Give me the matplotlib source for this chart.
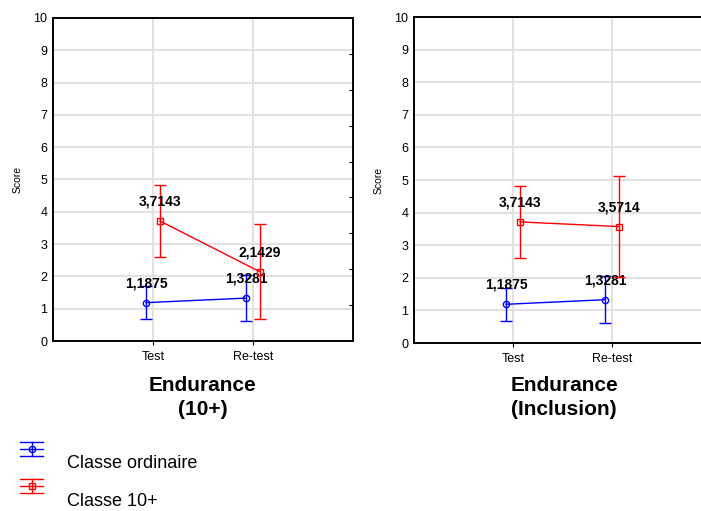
import matplotlib.pyplot as plt
from matplotlib.lines import Line2D

plt.rcParams['font.family'] = ['Liberation Sans', 'DejaVu Sans']

categories = ['Test', 'Re-test']

# left panel: Endurance (10+)
ord_mean_a = [1.1875, 1.3281]
ord_low_a = [0.67, 0.63]
ord_high_a = [1.70, 2.03]
c10_mean_a = [3.7143, 2.1429]
c10_low_a = [2.60, 0.67]
c10_high_a = [4.83, 3.63]

# right panel: Endurance (Inclusion)
ord_mean_b = [1.1875, 1.3281]
ord_low_b = [0.67, 0.60]
ord_high_b = [1.70, 2.06]
c10_mean_b = [3.7143, 3.5714]
c10_low_b = [2.60, 2.03]
c10_high_b = [4.83, 5.12]

titles = ['Endurance\n(10+)', 'Endurance\n(Inclusion)']
series_names = ['Classe ordinaire', 'Classe 10+']


def fmt(v):
    return ('%.4f' % v).replace('.', ',')


def draw_series(ax, xs, mean, low, high, color, marker):
    err = [[m - l for m, l in zip(mean, low)], [h - m for m, h in zip(mean, high)]]
    ax.errorbar(xs, mean, yerr=err, color=color, marker=marker, markersize=4.5,
                markerfacecolor='none', markeredgewidth=1.0, linewidth=1.0,
                elinewidth=1.0, capsize=4.3, capthick=1.0, zorder=3)
    for x, m in zip(xs, mean):
        ax.annotate(fmt(m), (x, m), xytext=(0, 9), textcoords='offset points',
                    ha='center', va='bottom', fontsize=10, fontweight='bold')


def draw_panel(ax, ord_data, c10_data, title):
    pos = [1, 2]
    xs_b = [p - 0.07 for p in pos]
    xs_r = [p + 0.07 for p in pos]
    draw_series(ax, xs_b, *ord_data, color='#0000ff', marker='o')
    draw_series(ax, xs_r, *c10_data, color='#ff0000', marker='s')
    ax.set_xlim(0, 3)
    ax.set_ylim(0, 10)
    ax.set_xticks(pos)
    ax.set_xticklabels(categories, fontsize=9)
    ax.set_yticks(range(0, 11))
    ax.tick_params(axis='y', labelsize=9, length=0, pad=4)
    ax.tick_params(axis='x', length=3, direction='out', pad=4)
    ax.grid(True, color='#dedede', linewidth=1.3)
    ax.set_axisbelow(True)
    ax.set_ylabel('Score', fontsize=7.5, labelpad=8)
    for s in ax.spines.values():
        s.set_linewidth(1.2)
    ax2 = ax.twinx()
    ax2.set_ylim(0, 9)
    ax2.set_yticks(range(1, 9))
    ax2.tick_params(axis='y', direction='in', length=3, labelright=False)
    for s in ax2.spines.values():
        s.set_linewidth(1.2)
    bb = ax.get_position()
    fig.text((bb.x0 + bb.x0 + 300 / 701) / 2, 1 - 397.5 / 511, title, ha='center',
             va='center', fontsize=15, fontweight='bold', linespacing=1.3)


fig = plt.figure(figsize=(7.01, 5.11), dpi=100)
ax_a = fig.add_axes([53 / 701, 1 - 341 / 511, 300 / 701, 323 / 511])
ax_b = fig.add_axes([414 / 701, 1 - 343 / 511, 297 / 701, 326 / 511])

draw_panel(ax_a, (ord_mean_a, ord_low_a, ord_high_a), (c10_mean_a, c10_low_a, c10_high_a), titles[0])
draw_panel(ax_b, (ord_mean_b, ord_low_b, ord_high_b), (c10_mean_b, c10_low_b, c10_high_b), titles[1])

# legend drawn by hand
legend_items = [(449, 464, '#0000ff', 'o'), (486, 501, '#ff0000', 's')]
for (ym, yt, col, mk), name in zip(legend_items, series_names):
    yf = 1 - ym / 511
    d = 7 / 511
    x0, x1, xc = 20 / 701, 43 / 701, 31.5 / 701
    for yy in (yf + d, yf, yf - d):
        fig.add_artist(Line2D([x0, x1], [yy, yy], color=col, linewidth=1.0))
    fig.add_artist(Line2D([xc, xc], [yf - d, yf + d], color=col, linewidth=1.0))
    fig.add_artist(Line2D([xc], [yf], color=col, marker=mk, markersize=4.5,
                          markerfacecolor='none', markeredgewidth=1.0))
    fig.text(67 / 701, 1 - yt / 511, name, ha='left', va='center', fontsize=13)

fig.savefig('out.png', dpi=100)
